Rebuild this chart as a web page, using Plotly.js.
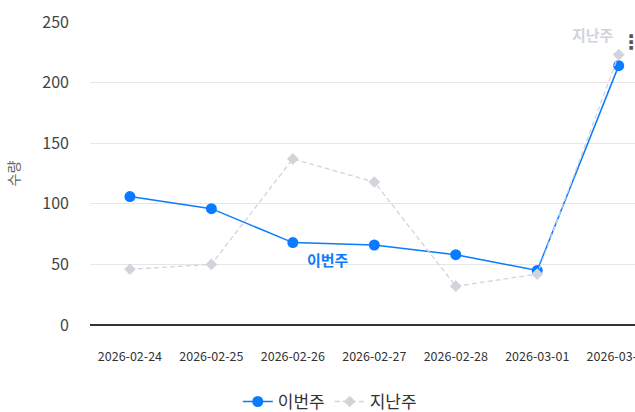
<!DOCTYPE html>
<html><head><meta charset="utf-8">
<script src="https://cdn.plot.ly/plotly-3.0.1.min.js"></script>
<style>html,body{margin:0;padding:0;background:#fff;overflow:hidden}#c{width:635px;height:412px}</style>
</head><body><div id="c"></div>
<script>
const dates = ["2026-02-24","2026-02-25","2026-02-26","2026-02-27","2026-02-28","2026-03-01","2026-03-02"];
const thisWeek = [106, 96, 68, 66, 58, 45, 214];
const lastWeek = [46, 50, 137, 118, 32, 42, 223];
const yTicks = [0, 50, 100, 150, 200, 250];
const seriesNames = ["이번주", "지난주"];
const font = "Noto Sans CJK KR, Noto Sans, sans-serif";
const blue = "#0a7bff", grey = "#d1d4da";

const traces = [
  {x: dates, y: thisWeek, name: seriesNames[0], type: "scatter", mode: "lines+markers",
   line: {color: blue, width: 1.5}, marker: {color: blue, size: 11, symbol: "circle"}},
  {x: dates, y: lastWeek, name: seriesNames[1], type: "scatter", mode: "lines+markers",
   line: {color: grey, width: 1.3, dash: "5px,3px"}, marker: {color: grey, size: 9, symbol: "diamond"}}
];
const layout = {
  width: 635, height: 412,
  margin: {l: 90, r: 0, t: 22, b: 87, autoexpand: false},
  paper_bgcolor: "#fff", plot_bgcolor: "#fff",
  font: {family: font, color: "#444"},
  showlegend: true,
  legend: {orientation: "h", x: 0.44, xanchor: "center", y: -0.254, yanchor: "middle",
           font: {size: 17, color: "#333", family: font}},
  xaxis: {type: "category", range: [-0.49, 6.2], showgrid: false, zeroline: false, automargin: false,
          showline: false, ticks: "", ticklabelstandoff: 22,
          tickfont: {size: 12.5, color: "#333", family: font}},
  yaxis: {range: [0, 250], tickvals: yTicks, showgrid: true, gridcolor: "#e6e6e6", gridwidth: 1,
          zeroline: true, zerolinecolor: "#333", zerolinewidth: 1.2, ticks: "", automargin: false,
          ticklabelstandoff: 20, tickfont: {size: 16, color: "#444", family: font},
          title: {text: "수량", font: {size: 14, color: "#666", family: font}, standoff: 19}},
  annotations: [
    {x: dates[6], y: lastWeek[6], xref: "x", yref: "y", text: "<b>지난주</b>", showarrow: false,
     xshift: -26, yshift: 20, font: {size: 15, color: grey, family: font}},
    {x: dates[2], y: thisWeek[2], xref: "x", yref: "y", text: "<b>이번주</b>", showarrow: false,
     xshift: 35, yshift: -17, font: {size: 15, color: blue, family: font}},
    {x: 1, y: 0.945, xref: "paper", yref: "paper", text: "<b>⋮</b>", showarrow: false,
     xanchor: "right", xshift: 8, yshift: 11, font: {size: 20, color: "#555", family: "DejaVu Sans"}}
  ]
};
Plotly.newPlot("c", traces, layout, {displayModeBar: false, staticPlot: true});
</script></body></html>
